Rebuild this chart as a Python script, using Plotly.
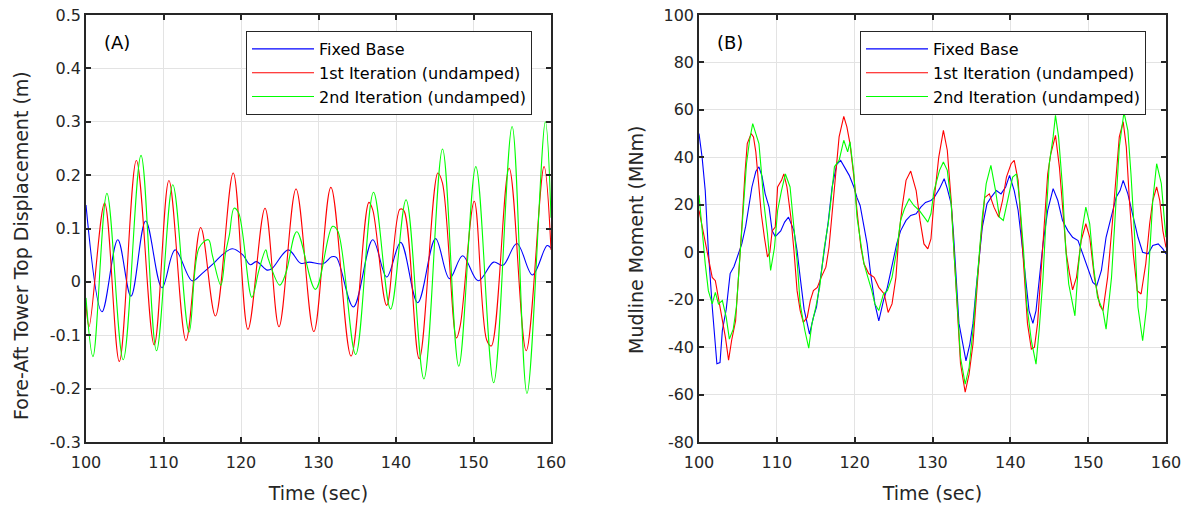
import plotly.graph_objects as go

# ---------------- Panel A: tower top displacement (m) ----------------
a_fixed_t = [100, 102.06, 104.1, 105.8, 107.7, 109.8, 111.5, 113.7, 115.0, 116.5, 117.6, 118.9, 120.2, 121.2,
             122.0, 123.4, 124.0, 126.1, 127.7, 128.8, 130.6, 131.7, 132.3, 134.5, 137.0, 138.8, 140.6,
             142.8, 145.1, 146.9, 148.6, 150.6, 152.6, 153.8, 155.6, 157.6, 159.5, 160]
a_fixed_v = [0.144, -0.056, 0.079, -0.027, 0.114, -0.011, 0.06, 0.002, 0.016, 0.035, 0.051, 0.062, 0.051, 0.032,
             0.038, 0.022, 0.025, 0.06, 0.035, 0.037, 0.034, 0.047, 0.046, -0.047, 0.079, 0.009, 0.074,
             -0.039, 0.081, 0.006, 0.049, 0.002, 0.037, 0.031, 0.072, 0.013, 0.068, 0.063]

a_iter1_t = [100, 100.4, 102.4, 104.3, 106.5, 108.8, 110.7, 112.9, 114.8, 116.7, 119.0, 120.9, 123.1, 124.9,
             127.1, 129.4, 131.6, 134.2, 136.5, 137.0, 138.8, 140.5, 141.0, 143.0, 145.4, 146.0, 147.8,
             148.3, 150.1, 151.7, 152.3, 154.6, 156.8, 159.1, 160]
a_iter1_v = [-0.04, -0.084, 0.1475, -0.149, 0.2275, -0.118, 0.19, -0.11, 0.102, -0.064, 0.204, -0.089, 0.138, -0.084,
             0.174, -0.093, 0.177, -0.139, 0.149, 0.135, -0.044, 0.136, 0.134, -0.144, 0.204, 0.185, -0.105,
             -0.081, 0.151, -0.109, -0.12, 0.213, -0.129, 0.216, 0.06]

a_iter2_t = [100, 100.9, 102.7, 104.8, 107.1, 109.1, 111.2, 113.3, 114.6, 115.8, 116.3, 117.4, 118.0, 118.5,
             119.1, 119.7, 121.4, 122.3, 123.2, 123.5, 125.0, 125.8, 127.2, 129.6, 131.8, 132.5, 134.8,
             137.1, 139.3, 141.3, 143.6, 146.0, 148.1, 150.3, 152.6, 154.98, 156.9, 159.27, 160]
a_iter2_v = [-0.03, -0.14, 0.166, -0.146, 0.237, -0.129, 0.182, -0.094, 0.064, 0.079, 0.05, -0.006, 0.054, 0.088,
             0.138, 0.129, -0.029, 0.021, 0.06, 0.044, -0.006, 0.017, 0.094, -0.014, 0.104, 0.095, -0.136,
             0.168, -0.051, 0.154, -0.182, 0.249, -0.158, 0.216, -0.189, 0.291, -0.209, 0.30, 0.12]

# ---------------- Panel B: mudline moment (MNm) ----------------
b_fixed_t = [100, 100.4, 100.8, 101.2, 101.7, 102.1, 102.3, 102.7, 103.0, 103.5, 104.0, 104.5, 105.1, 105.5,
             106.0, 106.4, 106.8, 107.3, 107.7, 108.1, 108.5, 109.0, 109.4, 109.8, 110.5, 111.0, 111.5,
             112.2, 112.6, 113.0, 113.5, 113.9, 114.2, 114.7, 115.1, 115.5, 116.1, 116.6, 117.1, 117.7,
             118.2, 118.6, 119.3, 119.9, 120.3, 120.7, 121.1, 121.6, 122.0, 122.6, 123.1, 123.7, 124.2,
             124.8, 125.4, 125.9, 126.6, 127.2, 127.9, 128.5, 129.1, 129.8, 130.2, 130.9, 131.5, 131.9,
             132.4, 132.7, 133.0, 133.4, 133.9, 134.3, 134.8, 135.2, 135.6, 136.0, 136.4, 137.0, 137.5,
             138.2, 138.8, 139.4, 139.9, 140.5, 141.0, 141.4, 141.9, 142.4, 142.9, 143.3, 143.7, 144.2,
             144.8, 145.5, 146.1, 146.7, 147.4, 148.0, 148.7, 149.3, 150.0, 150.6, 151.1, 151.7, 152.3,
             153.0, 153.6, 154.1, 154.5, 155.1, 155.8, 156.4, 157.0, 157.7, 158.3, 159.0, 159.6, 160]
b_fixed_v = [50, 40, 26, 0.7, -23, -39, -47, -46.5, -33, -24, -9, -6, -0.7, 3.5,
             11, 19, 27.5, 34, 36, 32, 24.6, 19, 9, 6.6, 9, 12.7, 14.8,
             9, 0.7, -10.6, -24, -30, -34.5, -27.5, -23, -13.4, 0.7, 12.7, 27.5, 37,
             38.7, 36.6, 32.4, 27.5, 23, 19.7, 12, 3.5, -7.7, -21.8, -28.9, -20.4, -14.8,
             -4.9, 3.5, 9, 13.4, 15.5, 16.2, 19, 21, 21.8, 23, 26.8, 31, 26.8,
             20.4, 7.7, -10.6, -30, -38.7, -45.8, -38.7, -30, -15.5, -0.7, 10.6, 20.4, 23,
             26, 24.6, 27.5, 32.4, 26, 17.6, 6.3, -10.6, -24.6, -30, -24.6, -12, 3.5,
             17.6, 26.8, 21.8, 13.4, 9, 6.3, 4.9, -0.7, -7.7, -12.7, -14.1, -7.7, 6.3,
             14.8, 23.2, 26, 30.3, 24.6, 14.8, 6.3, 0, -0.7, 2.8, 3.5, 1.4, -0.7]

b_iter1_t = [100, 100.6, 101.2, 101.7, 102.1, 102.5, 103.0, 103.4, 103.8, 104.2, 104.7, 105.1, 105.5, 105.9,
             106.2, 106.7, 107.0, 107.3, 107.7, 108.0, 108.4, 108.8, 109.1, 109.4, 109.8, 110.1, 110.6,
             110.9, 111.3, 111.8, 112.2, 112.6, 113.0, 113.4, 113.9, 114.3, 114.7, 115.2, 115.7, 116.3,
             116.7, 117.1, 117.6, 118.0, 118.6, 119.0, 119.4, 119.9, 120.3, 120.8, 121.2, 121.8, 122.5,
             123.1, 123.8, 124.3, 124.8, 125.3, 125.7, 126.1, 126.6, 127.2, 127.9, 128.4, 128.9, 129.4,
             129.8, 130.2, 130.8, 131.4, 131.9, 132.4, 132.8, 133.2, 133.6, 134.2, 134.7, 135.2, 135.6,
             136.1, 136.7, 137.3, 137.9, 138.5, 139.0, 139.5, 140.1, 140.5, 141.0, 141.4, 141.8, 142.2,
             142.7, 143.1, 143.5, 143.9, 144.4, 144.8, 145.2, 145.8, 146.3, 146.7, 147.2, 147.6, 148.0,
             148.5, 149.1, 149.7, 150.2, 150.8, 151.5, 151.9, 152.5, 153.1, 153.6, 154.0, 154.5, 154.9,
             155.3, 155.8, 156.3, 156.8, 157.4, 157.9, 158.3, 158.8, 159.2, 159.6, 160]
b_iter1_v = [17.6, 7.7, -2, -10.6, -12, -19, -27.5, -36, -45.5, -37, -29, -10.6, 10.6, 33,
             45.8, 50, 48.6, 42.3, 28.9, 16.2, 6.3, -2, 0, 9, 10.6, 27.5, 30.3,
             33, 27.5, 14.8, 0.7, -16.2, -24.6, -29.6, -27.5, -20.4, -16.2, -14.8, -10.6, -6.3,
             2, 16.2, 33, 48.6, 57.3, 52.8, 45.8, 31.7, 17.6, 2, -4.9, -9, -10.6,
             -14.8, -17.6, -25.4, -21.8, -10.6, 7.7, 19, 30.3, 34.2, 26, 13.4, 3.5, 1.4,
             5.6, 21.8, 40, 51.4, 43, 21.8, -2, -27.5, -47, -59, -51.4, -38.7, -21.8,
             2, 23, 24.6, 19, 14.8, 21.8, 31.7, 37.3, 38.7, 30.3, 9, -12, -30,
             -40.8, -40, -30, -10.6, 12, 33, 41.5, 49.3, 36, 19, -0.7, -9, -15.9,
             -10.6, 4.9, 12, 6.3, -10.6, -22.5, -24.6, -10.6, 12, 33, 48.6, 55, 44.4,
             21.8, -0.7, -16.2, -17.6, -4.9, 12, 21.8, 27.5, 21.8, 9, 2]

b_iter2_t = [100, 100.4, 100.8, 101.2, 101.7, 102.1, 102.5, 103.0, 103.5, 103.9, 104.4, 104.8, 105.2, 105.7,
             106.1, 106.5, 106.9, 107.3, 107.7, 108.0, 108.3, 108.8, 109.2, 109.7, 110.1, 110.6, 111.1,
             111.7, 112.1, 112.6, 113.0, 113.6, 114.1, 114.5, 115.0, 115.5, 116.1, 116.6, 117.0, 117.4,
             118.0, 118.6, 119.1, 119.4, 119.9, 120.3, 120.8, 121.2, 121.7, 122.2, 122.6, 123.1, 123.7,
             124.2, 124.8, 125.4, 125.9, 126.4, 127.0, 127.6, 128.3, 128.8, 129.4, 129.8, 130.2, 130.9,
             131.4, 131.9, 132.4, 132.8, 133.2, 133.6, 134.2, 134.7, 135.2, 135.8, 136.4, 136.9, 137.5,
             138.1, 138.6, 139.1, 139.7, 140.3, 140.8, 141.2, 141.7, 142.1, 142.7, 143.1, 143.3, 143.7,
             144.2, 144.6, 145.0, 145.5, 145.8, 146.2, 146.7, 147.1, 147.5, 148.0, 148.3, 148.7, 149.2,
             149.7, 150.2, 150.7, 151.2, 151.9, 152.3, 153.0, 153.5, 154.0, 154.6, 155.1, 155.5, 156.0,
             156.4, 157.0, 157.5, 157.9, 158.3, 158.8, 159.4, 159.8, 160]
b_iter2_v = [24, 9, -4.9, -16.2, -21.8, -16.9, -21.8, -20.4, -27.5, -36.6, -32.4, -23.2, -4.9, 14.8,
             37.3, 47.2, 54.2, 50, 45.8, 34.5, 21.8, 7.7, -7.7, 2, 17.6, 26, 33,
             27.5, 14.8, -3.5, -21.8, -33, -40.4, -30.3, -23.2, -14.8, 2, 12, 23.2, 36,
             38.7, 47.2, 42.3, 46.5, 33, 14.8, 3.5, -4.9, -10.6, -16.2, -21.8, -24.6, -17.6,
             -16.2, -10.6, 0.7, 13.4, 18.3, 22.5, 19.7, 17.6, 15.5, 12.7, 16.2, 26, 34.5,
             38, 34.5, 20.4, -2, -23.2, -44.4, -55.6, -48.6, -33, -10.6, 14.8, 28.9, 36.6,
             26, 14.8, 13.4, 23.2, 31.7, 33, 21.8, 0.7, -21.8, -37.3, -43, -47.2, -33,
             -10.6, 14.8, 37.3, 48.6, 57.7, 48.6, 27.5, 2, -13.4, -21.8, -26.8, -7.7, 9,
             19, 12, -6.3, -19, -24.6, -32.4, -10.6, 14.8, 44.4, 59, 51.4, 33, 4.9,
             -23.2, -37.3, -23.2, 0.7, 21.8, 37.3, 28.9, 13.4, 6.3]

series_names = ["Fixed Base", "1st Iteration (undamped)", "2nd Iteration (undamped)"]
series_colors = ["#0000FF", "#FF0000", "#00FF00"]

x_ticks = [100, 110, 120, 130, 140, 150, 160]
a_yticks = [-0.3, -0.2, -0.1, 0, 0.1, 0.2, 0.3, 0.4, 0.5]
a_yticktext = ["-0.3", "-0.2", "-0.1", "0", "0.1", "0.2", "0.3", "0.4", "0.5"]
b_yticks = [-80, -60, -40, -20, 0, 20, 40, 60, 80, 100]
b_yticktext = ["-80", "-60", "-40", "-20", "0", "20", "40", "60", "80", "100"]

FONT = "DejaVu Sans, Verdana, sans-serif"
AX = "#262626"
GRID = "#e3e3e3"

fig = go.Figure()

a_sets = [(a_fixed_t, a_fixed_v), (a_iter1_t, a_iter1_v), (a_iter2_t, a_iter2_v)]
b_sets = [(b_fixed_t, b_fixed_v), (b_iter1_t, b_iter1_v), (b_iter2_t, b_iter2_v)]

for (t, v), name, col in zip(a_sets, series_names, series_colors):
    fig.add_trace(go.Scatter(x=t, y=v, mode="lines", name=name, xaxis="x", yaxis="y",
                             line=dict(color=col, width=1.1, shape="spline", smoothing=1.0),
                             legend="legend"))
for (t, v), name, col in zip(b_sets, series_names, series_colors):
    fig.add_trace(go.Scatter(x=t, y=v, mode="lines", name=name, xaxis="x2", yaxis="y2",
                             line=dict(color=col, width=1.1), legend="legend2"))

H = 508.0
W = 1190.0
ydom = [(H - 442) / H, (H - 15) / H]

common_axis = dict(showline=True, linecolor=AX, linewidth=1.5, mirror="ticks", ticks="inside",
                   ticklen=5, tickwidth=1.5, tickcolor=AX, showgrid=True, gridcolor=GRID, gridwidth=1,
                   zeroline=False, automargin=False, tickfont=dict(family=FONT, size=16, color=AX))
TFONT = dict(family=FONT, size=19, color=AX)

fig.update_layout(
    width=1190, height=508, paper_bgcolor="white", plot_bgcolor="white",
    margin=dict(l=0, r=0, t=0, b=0, autoexpand=False),
    showlegend=True,
    xaxis=dict(domain=[86 / W, 551 / W], range=[100, 160], tickvals=x_ticks, anchor="y",
               ticklabelstandoff=5,
               title=dict(text="Time (sec)", font=TFONT, standoff=16), **common_axis),
    yaxis=dict(domain=ydom, range=[-0.3, 0.5], tickvals=a_yticks, ticktext=a_yticktext, anchor="x",
               **common_axis),
    xaxis2=dict(domain=[699 / W, 1166 / W], range=[100, 160], tickvals=x_ticks, anchor="y2",
                ticklabelstandoff=5,
                title=dict(text="Time (sec)", font=TFONT, standoff=16), **common_axis),
    yaxis2=dict(domain=ydom, range=[-80, 100], tickvals=b_yticks, ticktext=b_yticktext, anchor="x2",
                **common_axis),
    legend=dict(x=246 / W, y=1 - 31 / H, xanchor="left", yanchor="top", bgcolor="white",
                bordercolor=AX, borderwidth=1, font=dict(family=FONT, size=16, color="#000000"),
                itemwidth=62, tracegroupgap=0),
    legend2=dict(x=860 / W, y=1 - 31 / H, xanchor="left", yanchor="top", bgcolor="white",
                 bordercolor=AX, borderwidth=1, font=dict(family=FONT, size=16, color="#000000"),
                 itemwidth=62, tracegroupgap=0),
    annotations=[
        dict(text="(A)", x=102 / W, y=1 - 43 / H, xref="paper", yref="paper", xanchor="left",
             yanchor="middle", showarrow=False, font=dict(family=FONT, size=18, color="#000000")),
        dict(text="(B)", x=715 / W, y=1 - 43 / H, xref="paper", yref="paper", xanchor="left",
             yanchor="middle", showarrow=False, font=dict(family=FONT, size=18, color="#000000")),
        dict(text="Fore-Aft Tower Top Displacement (m)", textangle=-90, x=21 / W, y=1 - 246 / H,
             xref="paper", yref="paper", xanchor="center", yanchor="middle", showarrow=False, font=TFONT),
        dict(text="Mudline Moment (MNm)", textangle=-90, x=636 / W, y=1 - 240 / H,
             xref="paper", yref="paper", xanchor="center", yanchor="middle", showarrow=False, font=TFONT),
    ],
)

fig.write_html("out.html", config={"displayModeBar": False},
               post_script="document.body.style.margin='0';document.body.style.padding='0';")
